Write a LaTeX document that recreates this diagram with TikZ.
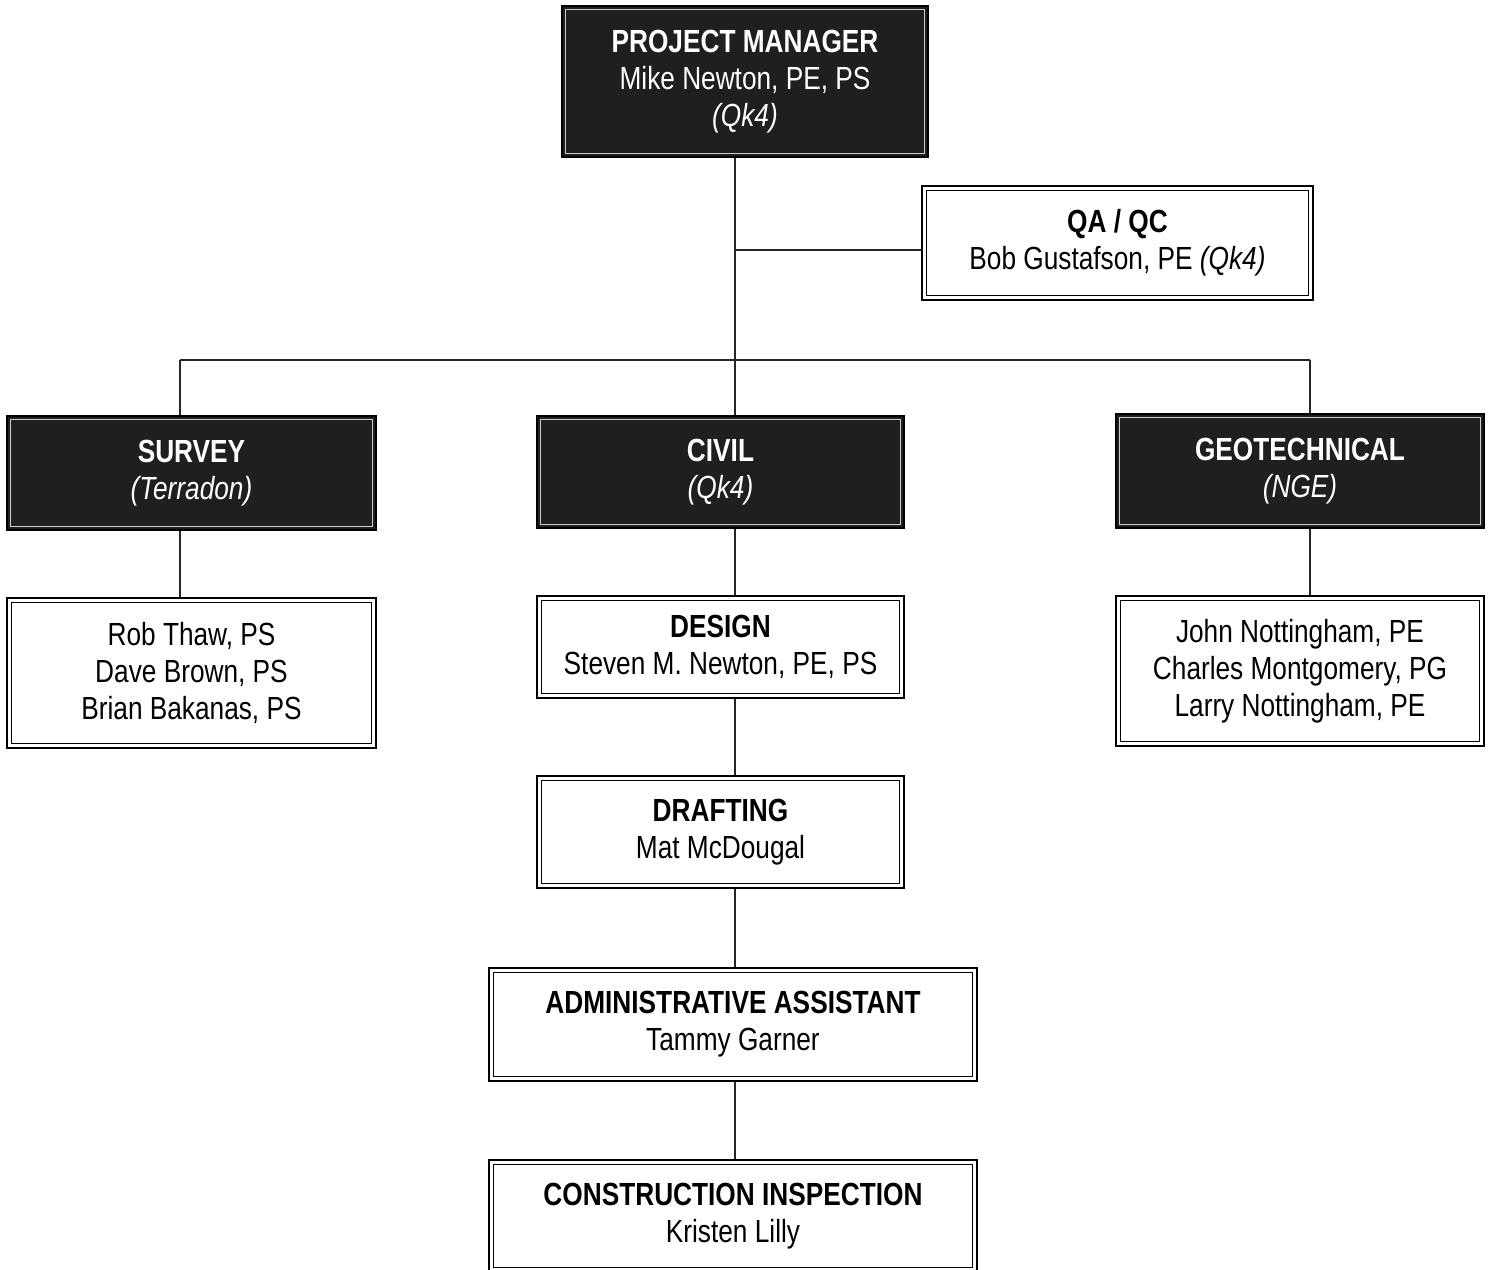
\documentclass[tikz,border=0pt]{standalone}
\usepackage{fontspec}
\setmainfont{Liberation Sans}[FakeStretch=0.82]
\begin{document}
\begin{tikzpicture}[x=0.5pt,y=-0.5pt,
  box/.style={draw=black, line width=1.4pt, align=center, inner sep=0pt,
    font=\fontsize{16}{18.5}\selectfont},
  dark/.style={box, fill=black!88, text=white},
  light/.style={box, fill=white, text=black},
  conn/.style={draw=black!85, line width=0.55pt}]
\useasboundingbox (0,0) rectangle (1490,1270);
% nodes
\node[dark, minimum width=183pt, minimum height=75.5pt] (pm) at (745,81.5)
  {\textbf{PROJECT MANAGER}\\Mike Newton, PE, PS\\\textit{(Qk4)}};
\node[light, minimum width=195.5pt, minimum height=57pt] (qa) at (1117.5,243)
  {\textbf{QA / QC}\\Bob Gustafson, PE \textit{(Qk4)}};
\node[dark, minimum width=184.5pt, minimum height=57pt] (survey) at (191.5,473)
  {\textbf{SURVEY}\\\textit{(Terradon)}};
\node[dark, minimum width=183.5pt, minimum height=56pt] (civil) at (720.5,472)
  {\textbf{CIVIL}\\\textit{(Qk4)}};
\node[dark, minimum width=184pt, minimum height=57pt] (geo) at (1300,471)
  {\textbf{GEOTECHNICAL}\\\textit{(NGE)}};
\node[light, minimum width=184.5pt, minimum height=75pt] (surveyppl) at (191.5,673)
  {Rob Thaw, PS\\Dave Brown, PS\\Brian Bakanas, PS};
\node[light, minimum width=183.5pt, minimum height=51pt] (design) at (720.5,647)
  {\textbf{DESIGN}\\Steven M. Newton, PE, PS};
\node[light, minimum width=184pt, minimum height=75pt] (geoppl) at (1300,671)
  {John Nottingham, PE\\Charles Montgomery, PG\\Larry Nottingham, PE};
\node[light, minimum width=183.5pt, minimum height=56pt] (drafting) at (720.5,832)
  {\textbf{DRAFTING}\\Mat McDougal};
\node[light, minimum width=244pt, minimum height=56.5pt] (admin) at (733,1024.5)
  {\textbf{ADMINISTRATIVE ASSISTANT}\\Tammy Garner};
\node[light, minimum width=244pt, minimum height=56pt] (constr) at (733,1216)
  {\textbf{CONSTRUCTION INSPECTION}\\Kristen Lilly};
% inner frame lines
\foreach \n in {qa,surveyppl,design,geoppl,drafting,admin,constr}
  \draw[line width=0.5pt] ([shift={(2.8pt,-2.8pt)}]\n.north west) rectangle ([shift={(-2.8pt,2.8pt)}]\n.south east);
\foreach \n in {pm,survey,civil,geo}
  \draw[white!80!black, line width=0.6pt] ([shift={(2.4pt,-2.4pt)}]\n.north west) rectangle ([shift={(-2.4pt,2.4pt)}]\n.south east);
% connectors
\coordinate (t1) at (735,250);
\coordinate (hl) at (180,360);
\coordinate (hr) at (1310,360);
\draw[conn] (pm.south -| t1) -- (t1 |- civil.north);
\draw[conn] (t1) -- (t1 -| qa.west);
\draw[conn] (hl) -- (hr);
\draw[conn] (hl) -- (hl |- survey.north);
\draw[conn] (hr) -- (hr |- geo.north);
\draw[conn] (survey.south -| hl) -- (hl |- surveyppl.north);
\draw[conn] (geo.south -| hr) -- (hr |- geoppl.north);
\draw[conn] (civil.south -| t1) -- (t1 |- design.north);
\draw[conn] (design.south -| t1) -- (t1 |- drafting.north);
\draw[conn] (drafting.south -| t1) -- (t1 |- admin.north);
\draw[conn] (admin.south -| t1) -- (t1 |- constr.north);
\end{tikzpicture}
\end{document}
